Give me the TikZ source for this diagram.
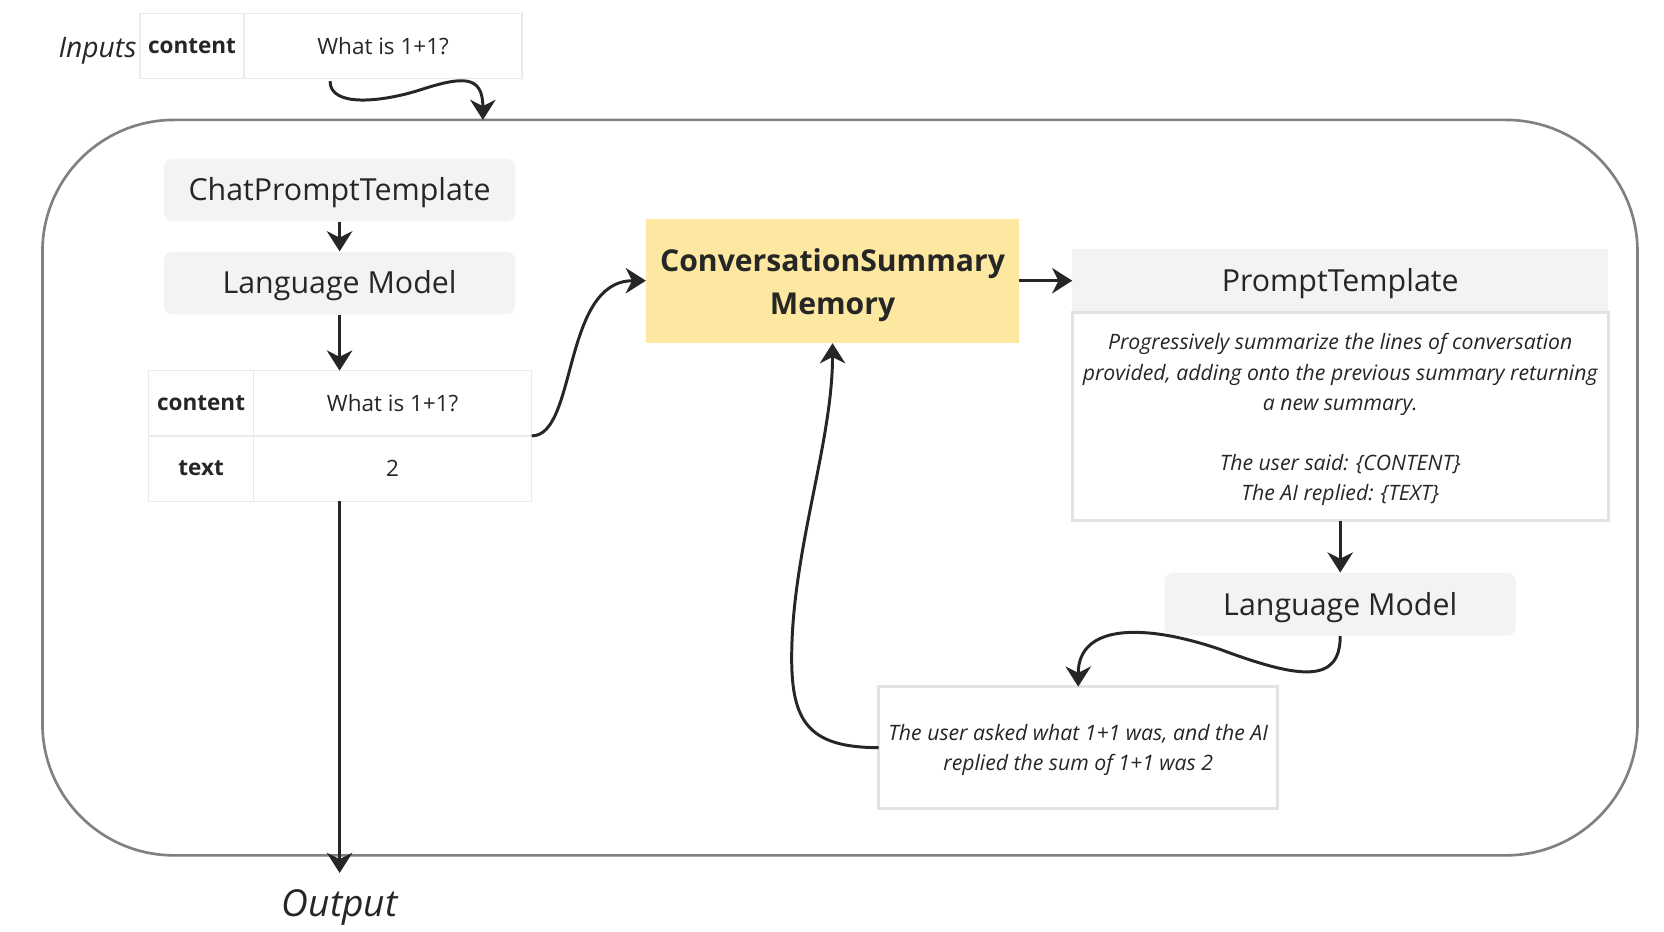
\documentclass[tikz,border=0pt]{standalone}
\usepackage{fontspec}
\setmainfont{Open Sans}
\usepackage{xcolor}
\usepackage{tikz}
\usetikzlibrary{arrows.meta, positioning, calc}
\definecolor{boxgray}{RGB}{243, 243, 243}
\definecolor{memyellow}{RGB}{252, 232, 160}
\definecolor{cellline}{RGB}{234, 234, 234}
\definecolor{noteline}{RGB}{226, 226, 226}
\definecolor{framegray}{RGB}{128, 128, 128}
\definecolor{inkdark}{RGB}{38, 38, 38}
\newcommand{\padtop}[1]{\rule{0pt}{#1}}
\tikzset{
    block/.style={
        rectangle,
        rounded corners=4pt,
        fill=boxgray,
        minimum width=165.5pt,
        minimum height=29.5pt,
        text height=13.6pt,
        text depth=3.4pt,
        align=center,
        text=inkdark,
        font=\fontsize{14.3}{17}\selectfont
    },
    headbox/.style={
        rectangle,
        fill=boxgray,
        outer sep=0pt,
        minimum width=252.5pt,
        minimum height=30pt,
        text height=13.6pt,
        text depth=3.4pt,
        align=center,
        text=inkdark,
        font=\fontsize{14.3}{17}\selectfont
    },
    memnode/.style={
        rectangle,
        fill=memyellow,
        minimum width=175.5pt,
        minimum height=58.5pt,
        align=center,
        text=inkdark,
        font=\bfseries\fontsize{14.2}{20}\selectfont
    },
    cell/.style={
        rectangle,
        draw=cellline,
        line width=0.6pt,
        outer sep=0pt,
        minimum width=#1,
        minimum height=30.75pt,
        text=inkdark,
        font=\fontsize{10.6}{12}\selectfont
    },
    keycell/.style={
        cell=#1,
        font=\bfseries\fontsize{10.6}{12}\selectfont
    },
    notebox/.style={
        rectangle,
        draw=noteline,
        line width=1.5pt,
        fill=white,
        outer sep=0pt,
        minimum width=252.5pt,
        align=center,
        text=inkdark,
        font=\itshape\fontsize{10}{14.25}\selectfont
    },
    caption/.style={
        text=inkdark,
        font=\itshape\fontsize{#1}{#1}\selectfont
    },
    flow/.style={
        -{Stealth[length=9.5pt, width=12pt, inset=3pt]},
        line width=1.4pt,
        draw=inkdark
    },
    frame/.style={
        draw=framegray,
        line width=1.25pt,
        rounded corners=62pt
    }
}

\begin{document}
\begin{tikzpicture}[
        x=0.5pt, y=-0.5pt,
        >=Stealth
    ]
        \useasboundingbox (0,0) rectangle (1568,878);

        \draw[frame] (40,113) rectangle (1543,806);

        \node[keycell=49pt, minimum height=30.5pt] (inkey) at (181,43.5) {content};
        \node[cell=131pt, minimum height=30.5pt, right=0pt of inkey] (inval) {What is 1+1?};
        \node[caption=13.3pt, text height=12.6pt, text depth=3.2pt, left=1.5pt of inkey, inner sep=0pt, yshift=-0.5pt] (inlabel) {Inputs};
        \coordinate (entry) at (455,113);

        \node[block] (chat) at (320,179) {ChatPromptTemplate};
        \node[block, below=14pt of chat] (lmleft) {Language Model};

        \node[keycell=49.5pt] (ckey) at (189.5,380) {content};
        \node[cell=131pt, right=0pt of ckey] (cval) {What is 1+1?};
        \node[keycell=49.5pt, below=0pt of ckey] (tkey) {text};
        \node[cell=131pt, below=0pt of cval] (tval) {2};

        \node[caption=17.5pt, text height=16.6pt, text depth=4.2pt, inner sep=3.6pt] (output) at (320,851) {Output};

        \node[memnode] (mem) at (784.5,264.5) {\padtop{15pt}ConversationSummary\\Memory};
        \node[headbox, right=25pt of mem] (ptitle) {PromptTemplate};
        \node[notebox, minimum height=98pt, below=0pt of ptitle] (pbody) {\padtop{10.6pt}Progressively summarize the lines of conversation\\provided, adding onto the previous summary returning\\a new summary.\\[14pt]The user said: \{CONTENT\}\\The AI replied: \{TEXT\}};
        \node[block, below=24.5pt of pbody] (lmright) {Language Model};
        \node[notebox, minimum width=188pt, minimum height=57.5pt] (summary) at (1016,704.5) {\padtop{10.1pt}The user asked what 1+1 was, and the AI\\replied the sum of 1+1 was 2};

        \draw[flow] ($(inval.south west)+(81,2.5)$) .. controls +(0,25) and (360,96) .. (395,85) .. controls (435,72) and (455,70) .. (entry);
        \draw[flow] (chat.south) -- (lmleft.north);
        \draw[flow] (lmleft.south) -- (lmleft.south |- cval.north);
        \draw[flow] (tval.south -| lmleft.south) -- (output.north);
        \draw[flow] (cval.south east) .. controls +(43,0) and +(-79,0) .. (mem.west);
        \draw[flow] (mem.east) -- (ptitle.west);
        \draw[flow] (pbody.south) -- (lmright.north);
        \draw[flow] (lmright.south) .. controls +(0,45) and (1225,640) .. (1150,612) .. controls (1080,588) and +(0,-60) .. (summary.north);
        \draw[flow] (summary.west) .. controls +(-66,0) and (746,680) .. (746,620) .. controls (746,520) and +(0,94) .. (mem.south);
    \end{tikzpicture}
\end{document}
